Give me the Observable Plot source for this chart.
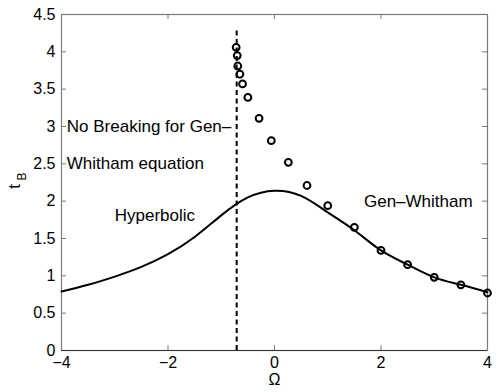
<!DOCTYPE html>
<html>
<head>
<meta charset="utf-8">
<script src="https://cdn.jsdelivr.net/npm/d3@7"></script>
<script src="https://cdn.jsdelivr.net/npm/@observablehq/plot@0.6"></script>
<style>
  html, body { margin: 0; padding: 0; background: #fff; }
</style>
</head>
<body>
<div id="chart"></div>
<script>
// Hyperbolic breaking time curve (solid line)
const curveOmega = [-4, -3.5, -3, -2.5, -2, -1.5, -1, -0.5, 0, 0.5, 1, 1.5, 2, 2.5, 3, 3.5, 4];
const curveTB    = [0.79, 0.88, 0.99, 1.12, 1.29, 1.52, 1.81, 2.05, 2.14, 2.07, 1.85, 1.61, 1.34, 1.15, 0.98, 0.88, 0.78];

// Gen-Whitham breaking times (circles)
const genOmega = [-0.72, -0.70, -0.69, -0.65, -0.60, -0.50, -0.29, -0.06, 0.26, 0.61, 1.0, 1.5, 2.0, 2.5, 3.0, 3.5, 4.0];
const genTB    = [4.06, 3.95, 3.81, 3.70, 3.57, 3.39, 3.11, 2.81, 2.52, 2.21, 1.94, 1.65, 1.34, 1.15, 0.98, 0.88, 0.77];

// No-breaking boundary (dashed vertical line)
const boundaryOmega = [-0.71];
const boundaryTop = [4.31];

// Annotations
const annoText = ["No Breaking for Gen\u2013", "Whitham equation", "Hyperbolic", "Gen\u2013Whitham"];
const annoX = [-3.9, -3.9, -3.0, 1.68];
const annoY = [3.0, 2.5, 1.81, 2.0];

// Ticks
const xTicks = [-4, -2, 0, 2, 4];
const yTicks = [0, 0.5, 1, 1.5, 2, 2.5, 3, 3.5, 4, 4.5];

const curve = curveOmega.map((x, i) => ({x, y: curveTB[i]}));
const gen = genOmega.map((x, i) => ({x, y: genTB[i]}));
const boundary = boundaryOmega.map((x, i) => ({x, top: boundaryTop[i]}));
const anno = annoText.map((t, i) => ({t, x: annoX[i], y: annoY[i]}));

const font = "'Liberation Sans', Arial, Helvetica, sans-serif";
const axisGray = "#7a7a7a";

const W = 498, H = 392, mL = 61, mR = 11, mT = 14, mB = 42;
const fw = W - mL - mR, fh = H - mT - mB, tk = 5;

const chart = Plot.plot({
  width: W,
  height: H,
  marginLeft: mL,
  marginRight: mR,
  marginTop: mT,
  marginBottom: mB,
  style: {fontFamily: font, fontSize: "16px", background: "#fff", color: "#000"},
  x: {domain: [-4, 4]},
  y: {domain: [0, 4.5]},
  marks: [
    // tick labels
    Plot.axisX(xTicks, {anchor: "bottom", tickSize: 0, tickPadding: 6, fontSize: 16, label: null, tickFormat: d => d === 0 ? "0" : (d < 0 ? "\u2212" + Math.abs(d) : String(d))}),
    Plot.axisY(yTicks, {anchor: "left", tickSize: 0, tickPadding: 6, fontSize: 16, label: null, tickFormat: d => String(d)}),
    // inward ticks on all four sides
    Plot.tickX(xTicks, {x: d => d, insetTop: fh - tk, stroke: axisGray}),
    Plot.tickX(xTicks, {x: d => d, insetBottom: fh - tk, stroke: axisGray}),
    Plot.tickY(yTicks, {y: d => d, insetRight: fw - tk, stroke: axisGray}),
    Plot.tickY(yTicks, {y: d => d, insetLeft: fw - tk, stroke: axisGray}),
    Plot.frame({stroke: axisGray, strokeWidth: 1.2}),
    Plot.ruleY([0], {stroke: "#333", strokeWidth: 1.2}),
    // dashed boundary
    Plot.ruleX(boundary, {x: "x", y1: 0, y2: "top", stroke: "#000", strokeWidth: 2, strokeDasharray: "5,3.5"}),
    // hyperbolic curve
    Plot.line(curve, {x: "x", y: "y", curve: "natural", stroke: "#000", strokeWidth: 2}),
    // gen-whitham points
    Plot.dot(gen, {x: "x", y: "y", r: 3.4, stroke: "#000", strokeWidth: 2, fill: "none"}),
    // annotations
    Plot.text(anno, {x: "x", y: "y", text: "t", textAnchor: "start", lineAnchor: "middle", fontSize: 17, fill: "#000", fontFamily: font}),
    // axis labels
    Plot.text(["\u03A9"], {text: d => d, frameAnchor: "bottom", textAnchor: "middle", lineAnchor: "middle", dy: 29, fontSize: 16, fill: "#000"}),
    Plot.text(["t"], {text: d => d, frameAnchor: "left", textAnchor: "middle", lineAnchor: "middle", dx: -47, dy: 4, rotate: -90, fontSize: 17, fill: "#000"}),
    Plot.text(["B"], {text: d => d, frameAnchor: "left", textAnchor: "middle", lineAnchor: "middle", dx: -39, dy: -6, rotate: -90, fontSize: 12, fill: "#000"})
  ]
});

document.getElementById("chart").appendChild(chart);
</script>
</body>
</html>
